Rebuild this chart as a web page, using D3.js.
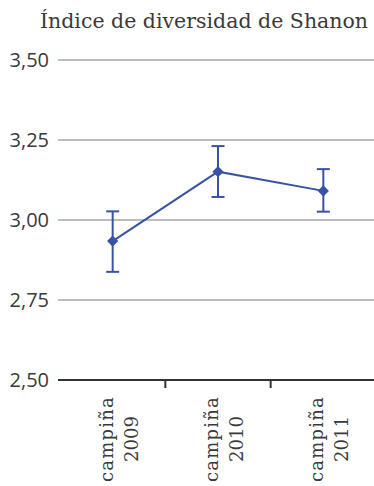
<!DOCTYPE html>
<html>
<head>
<meta charset="utf-8">
<script src="https://cdn.jsdelivr.net/npm/d3@7"></script>
<style>
  html, body { margin: 0; padding: 0; background: #fff; }
  svg { display: block; }
</style>
</head>
<body>
<svg id="chart" width="374" height="486"></svg>
<script>
// Shannon diversity index per campaign, with error bars
const campaigns = ["campiña 2009", "campiña 2010", "campiña 2011"];
const shannon = [2.934, 3.151, 3.091];
const errLow = [2.838, 3.072, 3.026];
const errHigh = [3.027, 3.231, 3.159];
const yTicks = [2.5, 2.75, 3.0, 3.25, 3.5];
const title = "Índice de diversidad de Shanon";

(function () {
  const svg = d3.select("#chart");
  const W = 374;
  const plotLeft = 60, plotRight = 376, plotTop = 60, plotBottom = 380;

  const x = d3.scaleBand().domain(campaigns).range([plotLeft, plotRight]);
  const y = d3.scaleLinear().domain([2.5, 3.5]).range([plotBottom, plotTop]);

  const blue = "#3953a4";
  const textCol = "#3a3a3a";

  // title
  svg.append("text")
    .attr("x", 204).attr("y", 28)
    .attr("text-anchor", "middle")
    .attr("font-family", "DejaVu Serif")
    .attr("font-size", 20.5)
    .attr("fill", textCol)
    .text(title);

  // gridlines
  svg.append("g").selectAll("line")
    .data(yTicks.filter(d => d > 2.5))
    .join("line")
    .attr("x1", 58).attr("x2", W)
    .attr("y1", d => y(d)).attr("y2", d => y(d))
    .attr("stroke", "#bdbdbd").attr("stroke-width", 2);

  // y tick labels
  const fmt = d => d3.format(".2f")(d).replace(".", ",");
  svg.append("g").selectAll("text")
    .data(yTicks)
    .join("text")
    .attr("x", 49).attr("y", d => y(d) + 7)
    .attr("text-anchor", "end")
    .attr("font-family", "Open Sans")
    .attr("font-size", 20)
    .attr("fill", textCol)
    .text(fmt);

  // x axis baseline and category separators
  svg.append("line")
    .attr("x1", 58).attr("x2", W)
    .attr("y1", y(2.5)).attr("y2", y(2.5))
    .attr("stroke", "#333").attr("stroke-width", 2.2);
  svg.append("g").selectAll("line")
    .data(campaigns.slice(1))
    .join("line")
    .attr("x1", d => x(d)).attr("x2", d => x(d))
    .attr("y1", y(2.5)).attr("y2", y(2.5) + 8)
    .attr("stroke", "#333").attr("stroke-width", 2);

  // category labels, rotated, two lines each
  const cx = d => x(d) + x.bandwidth() / 2;
  const labels = svg.append("g").selectAll("text")
    .data(campaigns)
    .join("text")
    .attr("transform", d => `translate(${cx(d)},439) rotate(-90)`)
    .attr("text-anchor", "middle")
    .attr("font-family", "DejaVu Serif")
    .attr("font-size", 18)
    .attr("fill", textCol);
  labels.append("tspan").attr("x", 0).attr("y", 0)
    .attr("letter-spacing", 1.2)
    .text(d => d.split(" ")[0]);
  labels.append("tspan").attr("x", 0).attr("y", 25)
    .text(d => d.split(" ")[1]);

  // error bars
  const eb = svg.append("g").attr("stroke", blue).attr("stroke-width", 2);
  campaigns.forEach((c, i) => {
    const px = cx(c);
    eb.append("line").attr("x1", px).attr("x2", px)
      .attr("y1", y(errLow[i])).attr("y2", y(errHigh[i]));
    eb.append("line").attr("x1", px - 6.5).attr("x2", px + 6.5)
      .attr("y1", y(errLow[i])).attr("y2", y(errLow[i]));
    eb.append("line").attr("x1", px - 6.5).attr("x2", px + 6.5)
      .attr("y1", y(errHigh[i])).attr("y2", y(errHigh[i]));
  });

  // connecting line
  svg.append("path")
    .datum(shannon)
    .attr("fill", "none")
    .attr("stroke", blue)
    .attr("stroke-width", 2)
    .attr("d", d3.line().x((d, i) => cx(campaigns[i])).y(d => y(d)));

  // diamond markers
  svg.append("g").selectAll("path")
    .data(shannon)
    .join("path")
    .attr("transform", (d, i) => `translate(${cx(campaigns[i])},${y(d)})`)
    .attr("d", d3.symbol(d3.symbolDiamond2, 80)())
    .attr("fill", blue);
})();
</script>
</body>
</html>
